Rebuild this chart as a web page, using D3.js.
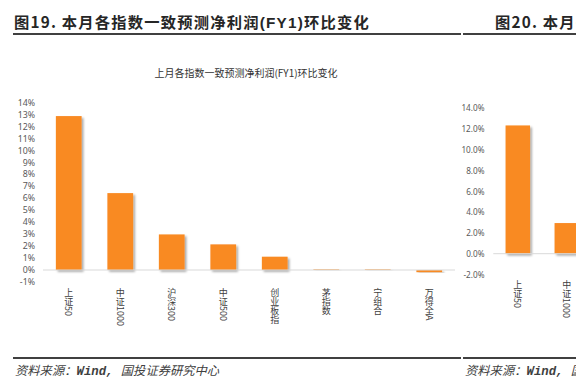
<!DOCTYPE html>
<html>
<head>
<meta charset="utf-8">
<script src="https://cdn.jsdelivr.net/npm/d3@7"></script>
<style>
  body { margin: 0; background: #fff; }
  svg { display: block; }
  .cjk { font-family: "Noto Sans CJK SC", "Noto Sans", sans-serif; }
  .tick text { font-family: "Noto Sans", "Open Sans", sans-serif; fill: #595959; }
</style>
</head>
<body>
<div id="chart"></div>
<script>
// left panel: 图19
var categories = ["上证50", "中证1000", "沪深300", "中证500", "创业板指", "茅指数", "宁组合", "万得全A"];
var values = [12.85, 6.42, 2.97, 2.14, 1.11, 0.05, 0.05, -0.18];
var yTicks = d3.range(-1, 15, 1);

// right panel: 图20 (only the part inside the picture)
var categories2 = ["上证50", "中证1000"];
var values2 = [12.35, 2.95];
var yTicks2 = d3.range(-2, 15, 2);

var width = 576;
var height = 391;
var barColor = "#f98a23";

var svg = d3.select("#chart")
    .append("svg")
    .attr("width", width)
    .attr("height", height);

// drop shadow under the bars
var defs = svg.append("defs");
defs.append("filter")
    .attr("id", "shadow")
    .attr("x", "-20%").attr("y", "-20%")
    .attr("width", "150%").attr("height", "150%")
    .append("feDropShadow")
    .attr("dx", 1.8)
    .attr("dy", 1.8)
    .attr("stdDeviation", 1.2)
    .attr("flood-color", "#000")
    .attr("flood-opacity", 0.35);

// headings and rules
function heading(x, parts) {
    var t = svg.append("text")
        .attr("class", "cjk")
        .attr("x", x)
        .attr("y", 28)
        .style("font-size", "15.3px")
        .style("font-weight", "700")
        .style("letter-spacing", "1.2px")
        .style("fill", "#262626");
    parts.forEach(function (p) {
        var s = t.append("tspan").text(p[0]);
        if (p[1]) s.style("font-family", "Liberation Sans, Arial, sans-serif");
    });
}
heading(14, [["图19. 本月各指数一致预测净利润"], ["(FY1)", true], ["环比变化"]]);
heading(495, [["图20. 本月各指数"]]);

[[13, 461], [463, 576]].forEach(function (seg) {
    svg.append("line")
        .attr("x1", seg[0]).attr("x2", seg[1])
        .attr("y1", 34).attr("y2", 34)
        .attr("stroke", "#000")
        .attr("stroke-width", 1.5);
    svg.append("line")
        .attr("x1", seg[0]).attr("x2", seg[1])
        .attr("y1", 358).attr("y2", 358)
        .attr("stroke", "#000")
        .attr("stroke-width", 1.5);
});

[15, 465].forEach(function (x) {
    var t = svg.append("text")
        .attr("class", "cjk")
        .attr("x", x)
        .attr("y", 375)
        .style("font-size", "12.3px")
        .style("font-style", "italic")
        .style("fill", "#404040");
    t.append("tspan").text("资料来源：");
    t.append("tspan")
        .style("font-family", "Liberation Mono, DejaVu Sans Mono, monospace")
        .style("font-weight", "700")
        .text("Wind, ");
    t.append("tspan").text("国投证券研究中心");
});

function drawPanel(opts) {
    var g = svg.append("g");

    var xScale = d3.scaleBand()
        .domain(opts.categories)
        .range(opts.xRange)
        .paddingInner(0.5)
        .paddingOuter(0.25);

    var yScale = d3.scaleLinear()
        .domain(opts.yDomain)
        .range(opts.yRange);

    if (opts.title) {
        g.append("text")
            .attr("class", "cjk")
            .attr("x", opts.titleX)
            .attr("y", opts.titleY)
            .attr("text-anchor", "middle")
            .style("font-size", "10px")
            .style("fill", "#333")
            .text(opts.title);
    }

    var yAxis = g.append("g")
        .attr("transform", "translate(" + opts.axisX + ",0)")
        .call(d3.axisLeft(yScale)
            .tickValues(opts.ticks)
            .tickSize(0)
            .tickPadding(0)
            .tickFormat(opts.format));
    yAxis.select(".domain").remove();
    yAxis.selectAll("text").style("font-size", opts.tickSize);

    g.selectAll(".bar")
        .data(opts.values)
        .enter()
        .append("rect")
        .attr("class", "bar")
        .attr("x", function (d, i) { return xScale(opts.categories[i]); })
        .attr("y", function (d) { return yScale(Math.max(0, d)); })
        .attr("width", xScale.bandwidth())
        .attr("height", function (d) { return Math.abs(yScale(d) - yScale(0)); })
        .attr("fill", barColor)
        .attr("filter", "url(#shadow)");

    // zero line
    g.append("line")
        .attr("x1", opts.xRange[0]).attr("x2", opts.lineEnd)
        .attr("y1", yScale(0)).attr("y2", yScale(0))
        .attr("stroke", "#d9d9d9")
        .attr("stroke-width", 1);

    // vertical category labels
    g.selectAll(".cat")
        .data(opts.categories)
        .enter()
        .append("text")
        .attr("class", "cat cjk")
        .attr("x", function (d) { return xScale(d) + xScale.bandwidth() / 2; })
        .attr("y", opts.labelY)
        .style("writing-mode", "vertical-rl")
        .style("font-size", "9px")
        .style("fill", "#404040")
        .text(function (d) { return d; });
}

drawPanel({
    categories: categories,
    values: values,
    xRange: [43, 455],
    lineEnd: 455,
    yDomain: [0, 14],
    yRange: [270, 102.3],
    ticks: yTicks,
    format: function (d) { return d + "%"; },
    tickSize: "8.8px",
    axisX: 35,
    title: "上月各指数一致预测净利润(FY1)环比变化",
    titleX: 246,
    titleY: 77,
    labelY: 288
});

drawPanel({
    categories: categories2,
    values: values2,
    xRange: [493.3, 493.3 + 2 * 49],
    lineEnd: 600,
    yDomain: [0, 14],
    yRange: [253.7, 108.3],
    ticks: yTicks2,
    format: function (d) { return d.toFixed(1) + "%"; },
    tickSize: "8.2px",
    axisX: 484.5,
    title: null,
    labelY: 280
});
</script>
</body>
</html>
